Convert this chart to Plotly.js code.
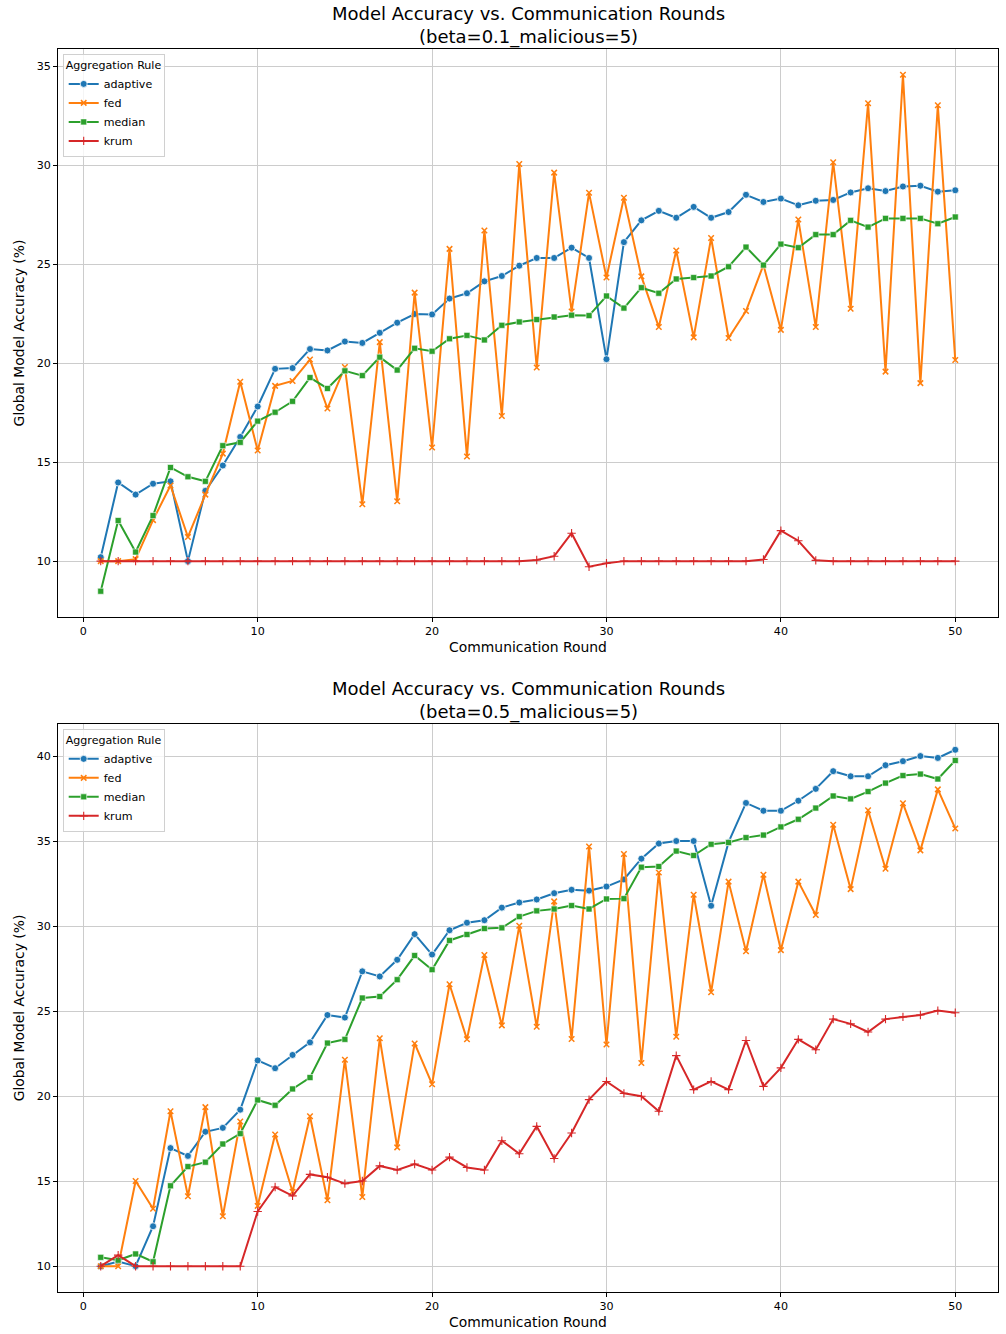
<!DOCTYPE html>
<html>
<head>
<meta charset="utf-8">
<script src="https://cdn.plot.ly/plotly-3.0.1.min.js"></script>
<style>html,body{margin:0;padding:0;background:#fff;}#chart{width:1006px;height:1334px;}</style>
</head>
<body>
<div id="chart"></div>
<script>
const rounds = Array.from({length: 50}, (_, i) => i + 1);
const seriesNames = ['adaptive', 'fed', 'median', 'krum'];
const xTicks = [0, 10, 20, 30, 40, 50];

const titleTop = 'Model Accuracy vs. Communication Rounds<br>(beta=0.1_malicious=5)';
const titleBottom = 'Model Accuracy vs. Communication Rounds<br>(beta=0.5_malicious=5)';

// beta=0.1
const top_adaptive = [10.2,13.97,13.36,13.91,14.03,10.0,13.55,14.83,16.27,17.81,
  19.71,19.75,20.71,20.64,21.09,21.02,21.53,22.04,22.48,22.46,
  23.26,23.53,24.13,24.40,24.92,25.31,25.31,25.83,25.31,20.20,
  26.11,27.21,27.69,27.34,27.89,27.34,27.63,28.50,28.14,28.31,
  27.97,28.20,28.24,28.62,28.83,28.69,28.92,28.96,28.66,28.73];
const top_fed = [10.0,10.0,10.1,12.07,13.82,11.22,13.36,15.43,19.06,15.59,
  18.85,19.10,20.18,17.71,19.80,12.87,21.06,13.02,23.56,15.74,
  25.77,15.28,26.70,17.33,30.06,19.78,29.62,22.61,28.60,24.32,
  28.35,24.38,21.82,25.69,21.30,26.32,21.27,22.63,24.96,21.68,
  27.25,21.82,30.14,22.75,33.12,19.57,34.56,18.99,33.02,20.16];
const top_median = [8.48,12.05,10.46,12.30,14.73,14.26,14.03,15.83,16.00,17.07,
  17.52,18.07,19.27,18.72,19.61,19.37,20.30,19.65,20.75,20.60,
  21.23,21.40,21.17,21.91,22.08,22.20,22.33,22.42,22.40,23.39,
  22.78,23.81,23.53,24.25,24.32,24.40,24.87,25.86,24.95,26.01,
  25.83,26.49,26.49,27.21,26.87,27.31,27.31,27.31,27.04,27.38];
const top_krum = [10,10,10,10,10,10,10,10,10,10,
  10,10,10,10,10,10,10,10,10,10,
  10,10,10,10,10,10.06,10.25,11.41,9.72,9.89,
  10,10,10,10,10,10,10,10,10.08,11.54,
  11.03,10.04,10,10,10,10,10,10,10,10];

// beta=0.5
const bottom_adaptive = [10.0,10.28,10.0,12.35,16.95,16.49,17.91,18.14,19.21,22.11,
  21.65,22.43,23.17,24.78,24.63,27.35,27.05,28.03,29.54,28.34,
  29.77,30.21,30.36,31.10,31.40,31.58,31.95,32.15,32.10,32.34,
  32.76,33.98,34.87,35.02,35.02,31.21,34.95,37.26,36.80,36.80,
  37.39,38.09,39.13,38.83,38.83,39.48,39.72,40.02,39.91,40.39];
const bottom_fed = [10.0,10.0,15.01,13.38,19.12,14.12,19.36,12.94,18.51,13.55,
  17.75,14.38,18.82,13.88,22.15,14.07,23.41,16.99,23.11,20.71,
  26.59,23.35,28.31,24.17,30.03,24.09,31.47,23.37,34.70,23.04,
  34.26,21.96,33.17,23.50,31.86,26.12,32.63,28.53,33.04,28.60,
  32.63,30.67,35.98,32.19,36.83,33.39,37.24,34.47,38.06,35.76];
const bottom_median = [10.52,10.35,10.72,10.26,14.73,15.86,16.12,17.19,17.80,19.78,
  19.47,20.43,21.10,23.13,23.35,25.78,25.87,26.86,28.28,27.45,
  29.17,29.52,29.87,29.91,30.57,30.91,31.02,31.22,31.02,31.61,
  31.63,33.48,33.52,34.43,34.17,34.83,34.93,35.22,35.37,35.85,
  36.30,36.96,37.67,37.50,37.93,38.43,38.87,38.96,38.67,39.76];
const bottom_krum = [10.0,10.65,10.0,10.0,10.0,10.0,10.0,10.0,10.0,13.22,
  14.66,14.14,15.40,15.23,14.86,15.01,15.90,15.66,16.01,15.66,
  16.42,15.81,15.66,17.38,16.62,18.23,16.34,17.84,19.80,20.87,
  20.17,20.00,19.12,22.39,20.39,20.87,20.39,23.28,20.58,21.67,
  23.35,22.74,24.54,24.26,23.78,24.54,24.67,24.78,25.04,24.91];

const colors = {adaptive:'#1f77b4', fed:'#ff7f0e', median:'#2ca02c', krum:'#d62728'};
const markers = {
  adaptive: {symbol:'circle', size:7, line:{color:'#ffffff', width:0.8}},
  fed: {symbol:'x-thin', size:5.5, line:{color:colors.fed, width:1.5}},
  median: {symbol:'square', size:6, line:{color:'#ffffff', width:0.6}},
  krum: {symbol:'cross-thin', size:6, line:{color:colors.krum, width:1.1}}
};
const topData = {adaptive: top_adaptive, fed: top_fed, median: top_median, krum: top_krum};
const bottomData = {adaptive: bottom_adaptive, fed: bottom_fed, median: bottom_median, krum: bottom_krum};

const traces = [];
function addTraces(dataMap, xa, ya, legendId) {
  seriesNames.forEach(name => {
    traces.push({
      x: rounds, y: dataMap[name], name: name, type: 'scatter', mode: 'lines+markers',
      xaxis: xa, yaxis: ya, legend: legendId,
      line: {color: colors[name], width: 2},
      marker: Object.assign({color: colors[name]}, markers[name])
    });
  });
}
addTraces(topData, 'x', 'y', 'legend');
addTraces(bottomData, 'x2', 'y2', 'legend2');

function padRange(arrs) {
  const all = [].concat(...arrs);
  const mn = Math.min(...all), mx = Math.max(...all);
  const p = (mx - mn) * 0.05;
  return [mn - p, mx + p];
}
const xr = [rounds[0] - (rounds[49]-rounds[0])*0.05, rounds[49] + (rounds[49]-rounds[0])*0.05];

const FONT = 'DejaVu Sans, sans-serif';
function xAxis(domainAnchor) {
  return {
    anchor: domainAnchor, range: xr, tickvals: xTicks, ticktext: xTicks.map(String),
    showgrid: true, gridcolor: '#cccccc', gridwidth: 1, zeroline: false,
    showline: true, mirror: true, linecolor: '#000', linewidth: 1,
    ticks: 'outside', ticklen: 4, tickwidth: 1, tickcolor: '#000',
    tickfont: {family: FONT, size: 11.1, color: '#000'},
    title: {text: 'Communication Round', font: {family: FONT, size: 13.9, color: '#000'}, standoff: 4}
  };
}
function yAxis(domain, anchor, range, dtick) {
  return {
    domain: domain, anchor: anchor, range: range, dtick: dtick, tick0: 0,
    showgrid: true, gridcolor: '#cccccc', gridwidth: 1, zeroline: false,
    showline: true, mirror: true, linecolor: '#000', linewidth: 1,
    ticks: 'outside', ticklen: 4, tickwidth: 1, tickcolor: '#000',
    tickfont: {family: FONT, size: 11.1, color: '#000'},
    title: {text: 'Global Model Accuracy (%)', font: {family: FONT, size: 13.9, color: '#000'}, standoff: 8}
  };
}
const legendStyle = {
  title: {text: 'Aggregation Rule', font: {family: FONT, size: 11.1, color: '#000'}},
  font: {family: FONT, size: 11.1, color: '#000'},
  bgcolor: 'rgba(255,255,255,0.8)', bordercolor: '#d0d0d0', borderwidth: 1,
  xref: 'paper', yref: 'paper', xanchor: 'left', yanchor: 'top', tracegroupgap: 0
};

// plot area: top 49px, bottom 1292px, height 1243px
const toPaperY = px => (1292 - px) / 1243;
function titleAnn(text, centerPx) {
  return {text: text, xref: 'paper', yref: 'paper', x: 0.5, y: toPaperY(centerPx),
    xanchor: 'center', yanchor: 'middle', showarrow: false,
    font: {family: FONT, size: 18, color: '#000'}};
}

const layout = {
  width: 1006, height: 1334,
  margin: {l: 58, r: 8, t: 49, b: 42},
  paper_bgcolor: '#fff', plot_bgcolor: '#fff',
  showlegend: true,
  xaxis: Object.assign(xAxis('y'), {domain: [0, 1]}),
  yaxis: yAxis([0.5430, 1], 'x', padRange([top_adaptive, top_fed, top_median, top_krum]), 5),
  xaxis2: Object.assign(xAxis('y2'), {domain: [0, 1]}),
  yaxis2: yAxis([0, 0.4570], 'x2', padRange([bottom_adaptive, bottom_fed, bottom_median, bottom_krum]), 5),
  legend: Object.assign({}, legendStyle, {x: 0.005, y: 0.996}),
  legend2: Object.assign({}, legendStyle, {x: 0.005, y: 0.4530}),
  annotations: [titleAnn(titleTop, 25.5), titleAnn(titleBottom, 701)]
};

Plotly.newPlot('chart', traces, layout, {displayModeBar: false, staticPlot: true});
</script>
</body>
</html>
